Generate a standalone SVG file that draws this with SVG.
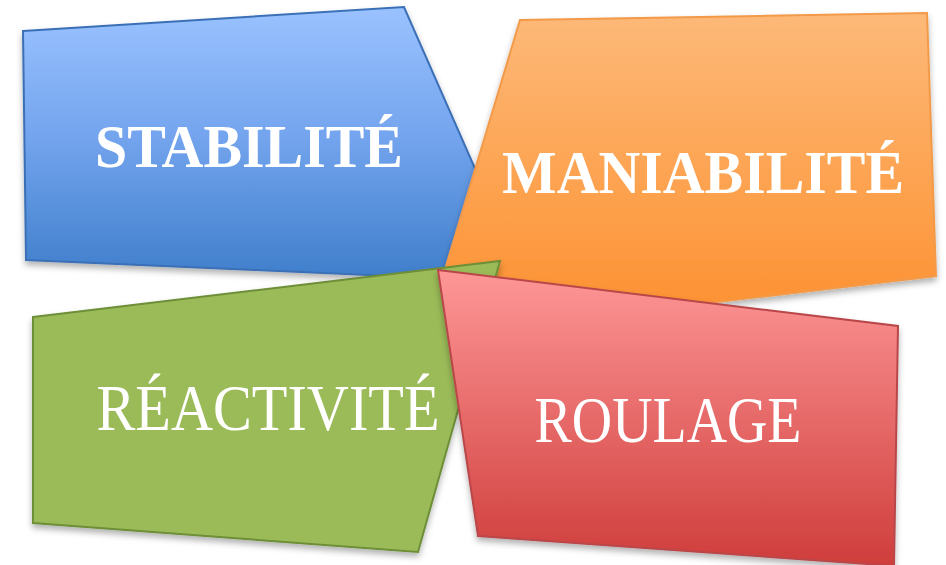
<svg xmlns="http://www.w3.org/2000/svg" width="946" height="565" viewBox="0 0 946 565">
  <defs>
    <linearGradient id="gBlue" x1="0" y1="0" x2="0" y2="1">
      <stop offset="0" stop-color="#9ac2ff"/>
      <stop offset="0.45" stop-color="#76a6ef"/>
      <stop offset="1" stop-color="#3f7ecb"/>
    </linearGradient>
    <linearGradient id="gOrange" x1="0" y1="0" x2="0" y2="1">
      <stop offset="0" stop-color="#fdb979"/>
      <stop offset="1" stop-color="#fd9131"/>
    </linearGradient>
    <linearGradient id="gRed" x1="0" y1="0" x2="0" y2="1">
      <stop offset="0" stop-color="#fe9797"/>
      <stop offset="1" stop-color="#cf3d3b"/>
    </linearGradient>
    <filter id="shadow" x="-10%" y="-10%" width="120%" height="130%">
      <feDropShadow dx="0" dy="4" stdDeviation="3" flood-color="#000" flood-opacity="0.3"/>
    </filter>
  </defs>
  <style>
    .shape { stroke-width: 2; stroke-linejoin: miter; filter: url(#shadow); }
    .label { fill: #ffffff; font-family: "Liberation Serif", "DejaVu Serif", serif; text-anchor: middle; }
    .bold { font-weight: bold; }
  </style>
  <rect width="946" height="565" fill="#ffffff"/>

  <g id="stabilite">
    <polygon class="shape" points="23,31 404,7 488,198 458,279 26,260" fill="url(#gBlue)" stroke="#3b70b6"/>
    <text class="label bold" x="249" y="167" font-size="62" textLength="308" lengthAdjust="spacingAndGlyphs">STABILITÉ</text>
  </g>

  <g id="maniabilite">
    <polygon class="shape" points="520,20 927,13 936,276 600,316 446,266" fill="url(#gOrange)" stroke="#f39a4a"/>
    <text class="label bold" x="703" y="193" font-size="62" textLength="402" lengthAdjust="spacingAndGlyphs">MANIABILITÉ</text>
  </g>

  <g id="reactivite">
    <polygon class="shape" points="33,317 500,261 418,552 33,523" fill="#9bbb59" stroke="#6d8f38"/>
    <text class="label" x="268" y="430" font-size="66" textLength="343" lengthAdjust="spacingAndGlyphs">RÉACTIVITÉ</text>
  </g>

  <g id="roulage">
    <polygon class="shape" points="438,270 898,326 894,566 478,536" fill="url(#gRed)" stroke="#b9474a"/>
    <text class="label" x="668" y="442" font-size="66" textLength="267" lengthAdjust="spacingAndGlyphs">ROULAGE</text>
  </g>

  <g id="connectors"/>
</svg>
